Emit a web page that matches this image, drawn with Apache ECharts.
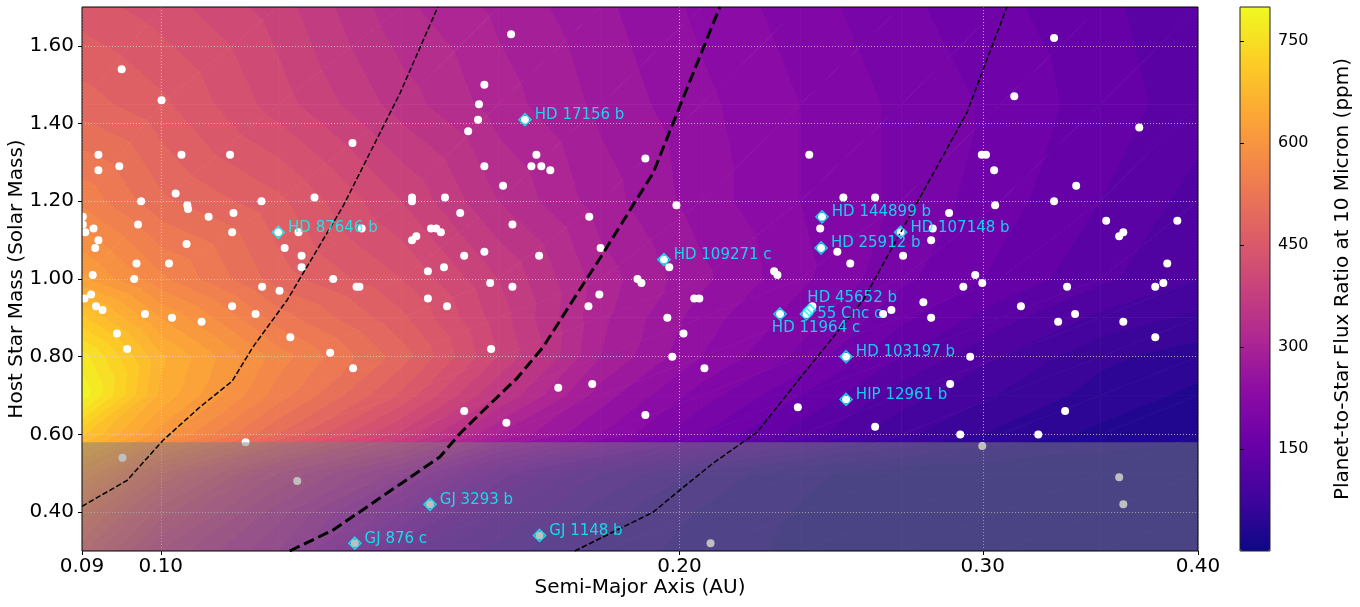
<!DOCTYPE html>
<html>
<head>
<meta charset="utf-8">
<script src="https://cdn.jsdelivr.net/npm/echarts@6/dist/echarts.min.js"></script>
<style>
html,body{margin:0;padding:0;background:#ffffff;}
#chart{width:1360px;height:607px;}
</style>
</head>
<body>
<div id="chart"></div>
<script>
// ---------------- axes / scales ----------------
const xMin = 0.09, xMax = 0.40;
const yMin = 0.30, yMax = 1.70;
const xTicks = [0.09, 0.10, 0.20, 0.30, 0.40];
const yTicks = [0.40, 0.60, 0.80, 1.00, 1.20, 1.40, 1.60];
const cbTicks = [150, 300, 450, 600, 750];
const fluxMin = 0, fluxMax = 800;
const levelStep = 20;
const lowMassCut = 0.58;

// ---------------- background flux-ratio field (ppm) ----------------
const fieldA = [0.09, 0.10, 0.117, 0.138, 0.157, 0.18, 0.206, 0.235, 0.269, 0.307, 0.351, 0.40];
const fieldM = [0.30, 0.40, 0.50, 0.60, 0.70, 0.80, 0.90, 1.00, 1.20, 1.45, 1.70];
const fieldFlux = [
  [465, 360, 280, 140,  90,  55,  30,  15,   6,   3,   2,   1],
  [520, 410, 310, 200, 125,  70,  38,  18,   8,   4,   2,   1],
  [600, 480, 360, 270, 170, 100,  55,  25,  10,   5,   3,   2],
  [705, 610, 500, 395, 300, 240, 180, 130,  85,  55,  35,  25],
  [795, 655, 550, 455, 360, 270, 210, 160, 110,  78,  52,  35],
  [770, 665, 570, 490, 400, 300, 240, 195, 140, 100,  65,  50],
  [705, 620, 530, 465, 390, 305, 250, 210, 165, 128,  95,  75],
  [625, 565, 490, 440, 380, 310, 265, 225, 185, 155, 125, 100],
  [555, 505, 465, 400, 340, 290, 250, 220, 195, 168, 140, 112],
  [490, 465, 410, 350, 310, 275, 245, 220, 195, 175, 150, 130],
  [450, 430, 390, 325, 295, 265, 235, 210, 185, 165, 145, 125]
];

// ---------------- planets (semi-major axis AU, host mass Msun) ----------------
const planetA = [0.0949,0.1001,0.0920,0.0946,0.1028,0.1097,0.1292,0.0920,0.1020,0.1036,0.1037,0.0974,0.1144,0.1228,0.1066,0.1102,
  0.0901,0.0901,0.0904,0.0914,0.0920,0.0916,0.0970,0.1035,0.1100,0.1202,0.1308,0.1180,0.1207,0.1207,0.1259,0.1145,0.1172,0.1299,0.1304,
  0.0968,0.1011,0.0913,0.0965,0.0903,0.0911,0.0917,0.0925,0.0979,0.1015,0.1056,0.0943,0.0956,0.1100,0.1135,0.1189,0.1254,0.1293,
  0.1120,0.0950,0.1200,0.1399,0.1399,0.1407,0.1399,
  0.1597,0.1541,0.1530,0.1528,0.1508,0.1652,0.1641,0.1663,0.1683,0.1541,0.1580,0.1911,0.1462,0.1492,0.1600,0.1773,0.1992,
  0.1435,0.1445,0.1454,0.1500,0.1541,0.1658,0.1800,0.1429,0.1460,0.1553,0.1600,0.1973,0.1891,0.1901,0.2270,0.2280,
  0.1429,0.1797,0.2040,0.2054,0.1466,0.1771,0.1968,0.2011,0.1555,0.1981,0.2068,0.1701,0.1780,0.1500,0.1587,0.1911,0.2343,0.2085,
  0.3300,0.3129,0.3698,0.2379,0.2996,0.3013,0.3046,0.3399,0.2490,0.2598,0.3300,0.3050,0.2868,0.3538,0.3891,0.2414,0.2806,0.2800,
  0.3600,0.3620,0.2470,0.2513,0.2697,0.3839,0.2970,0.2923,0.2998,0.3358,0.3778,0.3819,0.2771,0.2389,0.2626,0.2655,0.2800,0.3157,
  0.3318,0.3394,0.3620,0.3778,0.2950,0.2872,0.3349,0.2598,0.2911,0.3231,0.2998,0.3600,0.3620];
const planetM = [1.54,1.46,1.32,1.29,1.32,1.32,1.35,1.28,1.22,1.19,1.18,1.20,1.20,1.21,1.16,1.17,
  1.16,1.14,1.12,1.13,1.10,1.08,1.14,1.09,1.12,1.12,1.13,1.08,1.06,1.03,1.00,0.98,0.97,0.98,0.98,
  1.04,1.04,1.01,1.00,0.95,0.96,0.93,0.92,0.91,0.90,0.89,0.86,0.82,0.93,0.91,0.85,0.81,0.77,
  0.58,0.54,0.48,1.21,1.20,1.11,1.10,
  1.63,1.50,1.45,1.41,1.38,1.32,1.29,1.29,1.28,1.29,1.24,1.31,1.21,1.17,1.14,1.16,1.19,
  1.13,1.13,1.12,1.06,1.07,1.06,1.08,1.02,1.03,0.99,0.98,1.03,1.00,0.99,1.02,1.01,
  0.95,0.96,0.95,0.95,0.93,0.93,0.90,0.86,0.82,0.80,0.77,0.72,0.73,0.66,0.63,0.65,0.67,0.32,
  1.62,1.47,1.39,1.32,1.32,1.32,1.28,1.24,1.21,1.21,1.20,1.19,1.17,1.15,1.15,1.13,1.13,1.10,
  1.11,1.12,1.07,1.04,1.06,1.04,1.01,0.98,0.99,0.98,0.98,0.99,0.94,0.93,0.91,0.92,0.90,0.93,
  0.89,0.91,0.89,0.85,0.80,0.73,0.66,0.62,0.60,0.60,0.57,0.49,0.42];

// ---------------- named targets ----------------
const targetName = ['HD 87646 b','HD 17156 b','HD 109271 c','HD 144899 b','HD 107148 b','HD 25912 b','HD 45652 b',
  '55 Cnc c','HD 11964 c','HD 103197 b','HIP 12961 b','GJ 3293 b','GJ 876 c','GJ 1148 b'];
const targetA = [0.1170,0.1627,0.1959,0.2420,0.2688,0.2417,0.2380,0.2370,0.2288,0.2499,0.2499,0.1433,0.1296,0.1659];
const targetM = [1.12,1.41,1.05,1.16,1.12,1.08,0.92,0.91,0.91,0.80,0.69,0.42,0.32,0.34];

// ---------------- dashed curves ----------------
const curveInnerA = [0.0900,0.0956,0.1003,0.1054,0.1100,0.1131,0.1184,0.1276,0.1377,0.1448];
const curveInnerM = [0.415,0.482,0.585,0.671,0.737,0.825,0.946,1.188,1.479,1.700];
const curveMidA = [0.1188,0.1259,0.1377,0.1452,0.1492,0.1546,0.1610,0.1667,0.1735,0.1799,0.1931,0.1994,0.2111];
const curveMidM = [0.300,0.354,0.472,0.542,0.603,0.670,0.745,0.825,0.946,1.054,1.273,1.428,1.700];
const curveOuterA = [0.1739,0.1931,0.1994,0.2092,0.2219,0.2350,0.2557,0.2937,0.3098];
const curveOuterM = [0.300,0.400,0.451,0.526,0.606,0.745,0.946,1.428,1.700];

// ---------------- styling ----------------
const PLASMA = ['#0d0887','#41049d','#6a00a8','#8f0da4','#b12a90','#cc4778','#e16462','#f2844b','#fca636','#fcce25','#f0f921'];
const FONT = 'DejaVu Sans';
const CYAN = '#00ffff';
const labelShift = {'HD 45652 b': [-12, -12], '55 Cnc c': [1, 0], 'HD 11964 c': [-18, 14]};

// x axis is drawn in log10 units (matplotlib log axis)
const lg = v => Math.log10(v);

const plasmaRGB = PLASMA.map(h => [parseInt(h.slice(1,3),16), parseInt(h.slice(3,5),16), parseInt(h.slice(5,7),16)]);
function cmap(v) {
  let t = (v - fluxMin) / (fluxMax - fluxMin);
  t = Math.max(0, Math.min(1, t));
  const n = plasmaRGB.length - 1;
  const f = t * n;
  const i = Math.min(Math.floor(f), n - 1);
  const r = f - i;
  const a = plasmaRGB[i], b = plasmaRGB[i + 1];
  return 'rgb(' + Math.round(a[0] + (b[0]-a[0])*r) + ',' + Math.round(a[1] + (b[1]-a[1])*r) + ',' + Math.round(a[2] + (b[2]-a[2])*r) + ')';
}
// filled-contour colour of the band containing v
function bandColor(v) {
  const k = Math.floor((v - fluxMin) / levelStep);
  return cmap(fluxMin + (k + 0.5) * levelStep);
}
function bandStops(vmin, vmax) {
  const span = vmax - vmin, stops = [];
  let k = Math.floor((vmin - fluxMin) / levelStep);
  for (;;) {
    const lo = fluxMin + k * levelStep, hi = lo + levelStep;
    const c = cmap(lo + levelStep / 2);
    stops.push({offset: Math.max(0, (lo - vmin) / span), color: c});
    stops.push({offset: Math.min(1, (hi - vmin) / span), color: c});
    if (hi >= vmax) break;
    k++;
  }
  return stops;
}

function triangle(p1, p2, p3, w1, w2, w3) {
  const pts = [p1, p2, p3], ws = [w1, w2, w3];
  const d2x = p2[0]-p1[0], d2y = p2[1]-p1[1], d3x = p3[0]-p1[0], d3y = p3[1]-p1[1];
  const dv2 = w2-w1, dv3 = w3-w1;
  const det = d2x*d3y - d2y*d3x;
  const vmin = Math.min(w1,w2,w3), vmax = Math.max(w1,w2,w3);
  let fill;
  if (Math.abs(det) < 1e-9 || vmax - vmin < 1e-6) {
    fill = bandColor((vmin + vmax) / 2);
  } else {
    const ga = (dv2*d3y - dv3*d2y) / det;
    const gb = (d2x*dv3 - d3x*dv2) / det;
    const g2 = ga*ga + gb*gb;
    const p0 = pts[ws.indexOf(vmin)];
    const s = (vmax - vmin) / g2;
    fill = {type: 'linear', x: p0[0], y: p0[1], x2: p0[0] + ga*s, y2: p0[1] + gb*s, global: true,
      colorStops: bandStops(vmin, vmax)};
  }
  return {type: 'polygon', shape: {points: pts}, style: {fill: fill, stroke: fill, lineWidth: 0.8}};
}

function renderCell(params, api) {
  const a0 = api.value(0), a1 = api.value(1), m0 = api.value(2), m1 = api.value(3);
  const P00 = api.coord([a0, m0]), P10 = api.coord([a1, m0]), P11 = api.coord([a1, m1]), P01 = api.coord([a0, m1]);
  const v00 = api.value(4), v10 = api.value(5), v01 = api.value(6), v11 = api.value(7);
  return {type: 'group', children: [
    triangle(P00, P10, P11, v00, v10, v11),
    triangle(P00, P11, P01, v00, v11, v01)
  ]};
}

function renderShade(params, api) {
  const p0 = api.coord([api.value(0), api.value(3)]);
  const p1 = api.coord([api.value(1), api.value(2)]);
  return {type: 'rect', shape: {x: p0[0], y: p0[1], width: p1[0] - p0[0], height: p1[1] - p0[1]},
    style: {fill: 'rgba(128,128,128,0.5)'}};
}

// build series data from the arrays
const cellData = [];
for (let j = 0; j < fieldM.length - 1; j++) {
  for (let i = 0; i < fieldA.length - 1; i++) {
    cellData.push([lg(fieldA[i]), lg(fieldA[i+1]), fieldM[j], fieldM[j+1],
      fieldFlux[j][i], fieldFlux[j][i+1], fieldFlux[j+1][i], fieldFlux[j+1][i+1]]);
  }
}
const planetData = planetA.map((a, i) => [lg(a), planetM[i]]).concat(targetA.map((a, i) => [lg(a), targetM[i]]));
const targetData = targetName.map((nm, i) => ({
  name: nm, value: [lg(targetA[i]), targetM[i]],
  label: {offset: labelShift[nm] || [0, -4.5]}
}));
const pair = (A, M) => A.map((a, i) => [lg(a), M[i]]);

const gridLine = {show: true, lineStyle: {color: 'rgba(215,215,215,0.75)', width: 1, type: [1, 2]}};

const option = {
  animation: false,
  backgroundColor: '#ffffff',
  textStyle: {fontFamily: FONT},
  grid: [
    {left: 82, top: 7, width: 1116, height: 544, show: false, containLabel: false, outerBoundsMode: 'none'},
    {left: 1240, top: 7, width: 30, height: 544, show: true, backgroundColor: 'transparent', borderColor: '#222', borderWidth: 1, z: 10,
      containLabel: false, outerBoundsMode: 'none'},
    {left: 82, top: 7, width: 1116, height: 544, show: true, backgroundColor: 'transparent', borderColor: '#000', borderWidth: 1, z: 9,
      containLabel: false, outerBoundsMode: 'none'}
  ],
  xAxis: [
    {gridIndex: 0, type: 'value', min: lg(xMin), max: lg(xMax), z: 2,
      name: 'Semi-Major Axis (AU)', nameLocation: 'middle', nameGap: 27, nameMoveOverlap: false,
      nameTextStyle: {fontSize: 20, color: '#000', fontFamily: FONT},
      axisLine: {show: false},
      axisTick: {show: true, customValues: xTicks.map(lg), length: 4, lineStyle: {color: '#000'}},
      axisLabel: {customValues: xTicks.map(lg), fontSize: 20, color: '#000', margin: 6, fontFamily: FONT,
        formatter: v => Math.pow(10, v).toFixed(2)},
      splitLine: gridLine},
    {gridIndex: 1, type: 'value', show: false, min: 0, max: 1},
    {gridIndex: 2, type: 'value', show: false, min: 0, max: 1}
  ],
  yAxis: [
    {gridIndex: 0, type: 'value', min: yMin, max: yMax, z: 2,
      name: 'Host Star Mass (Solar Mass)', nameLocation: 'middle', nameGap: 55, nameRotate: 90, nameMoveOverlap: false,
      nameTextStyle: {fontSize: 20, color: '#000', fontFamily: FONT},
      axisLine: {show: false},
      axisTick: {show: true, customValues: yTicks, length: 4, lineStyle: {color: '#000'}},
      axisLabel: {customValues: yTicks, fontSize: 20, color: '#000', margin: 8, fontFamily: FONT,
        formatter: v => Number(v).toFixed(2)},
      splitLine: gridLine},
    {gridIndex: 1, type: 'value', position: 'right', min: fluxMin, max: fluxMax, z: 10,
      name: 'Planet-to-Star Flux Ratio at 10 Micron (ppm)', nameLocation: 'middle', nameGap: 63, nameRotate: 90,
      nameMoveOverlap: false,
      nameTextStyle: {fontSize: 20, color: '#000', fontFamily: FONT},
      axisLine: {show: false},
      axisTick: {show: true, customValues: cbTicks, length: 4, lineStyle: {color: '#000'}},
      axisLabel: {customValues: cbTicks, fontSize: 16, color: '#000', margin: 8, fontFamily: FONT},
      splitLine: {show: false}},
    {gridIndex: 2, type: 'value', show: false, min: 0, max: 1}
  ],
  visualMap: {
    type: 'continuous', min: fluxMin, max: fluxMax, seriesIndex: [],
    orient: 'vertical', left: 1240, top: 7, itemWidth: 30, itemHeight: 544, padding: 0,
    calculable: false, hoverLink: false, inRange: {color: PLASMA}, z: 5
  },
  series: [
    {type: 'custom', name: 'field', xAxisIndex: 0, yAxisIndex: 0, z: 1, silent: true, clip: true,
      renderItem: renderCell, encode: {x: [0, 1], y: [2, 3]}, data: cellData},
    {type: 'scatter', name: 'planets', xAxisIndex: 0, yAxisIndex: 0, z: 3, silent: true,
      symbol: 'circle', symbolSize: 8, itemStyle: {color: '#ffffff', opacity: 1}, data: planetData},
    {type: 'custom', name: 'lowmass', xAxisIndex: 0, yAxisIndex: 0, z: 4, silent: true, clip: true,
      renderItem: renderShade, encode: {x: [0, 1], y: [2, 3]},
      data: [[lg(xMin), lg(xMax), yMin, lowMassCut]]},
    {type: 'line', name: 'inner', xAxisIndex: 0, yAxisIndex: 0, z: 5, silent: true, symbol: 'none',
      lineStyle: {color: '#000', width: 1.5, type: [5.5, 2.4]}, data: pair(curveInnerA, curveInnerM)},
    {type: 'line', name: 'mid', xAxisIndex: 0, yAxisIndex: 0, z: 5, silent: true, symbol: 'none',
      lineStyle: {color: '#000', width: 3, type: [11, 4.8]}, data: pair(curveMidA, curveMidM)},
    {type: 'line', name: 'outer', xAxisIndex: 0, yAxisIndex: 0, z: 5, silent: true, symbol: 'none',
      lineStyle: {color: '#000', width: 1.5, type: [5.5, 2.4]}, data: pair(curveOuterA, curveOuterM)},
    {type: 'scatter', name: 'targets', xAxisIndex: 0, yAxisIndex: 0, z: 6, silent: true,
      symbol: 'diamond', symbolSize: 12,
      itemStyle: {color: 'rgba(0,0,0,0)', borderColor: CYAN, borderWidth: 1.6},
      label: {show: true, position: 'right', distance: 3, formatter: '{b}', color: CYAN, fontSize: 15, fontFamily: FONT},
      data: targetData}
  ]
};

const chart = echarts.init(document.getElementById('chart'), null, {renderer: 'canvas'});
chart.setOption(option);
</script>
</body>
</html>
